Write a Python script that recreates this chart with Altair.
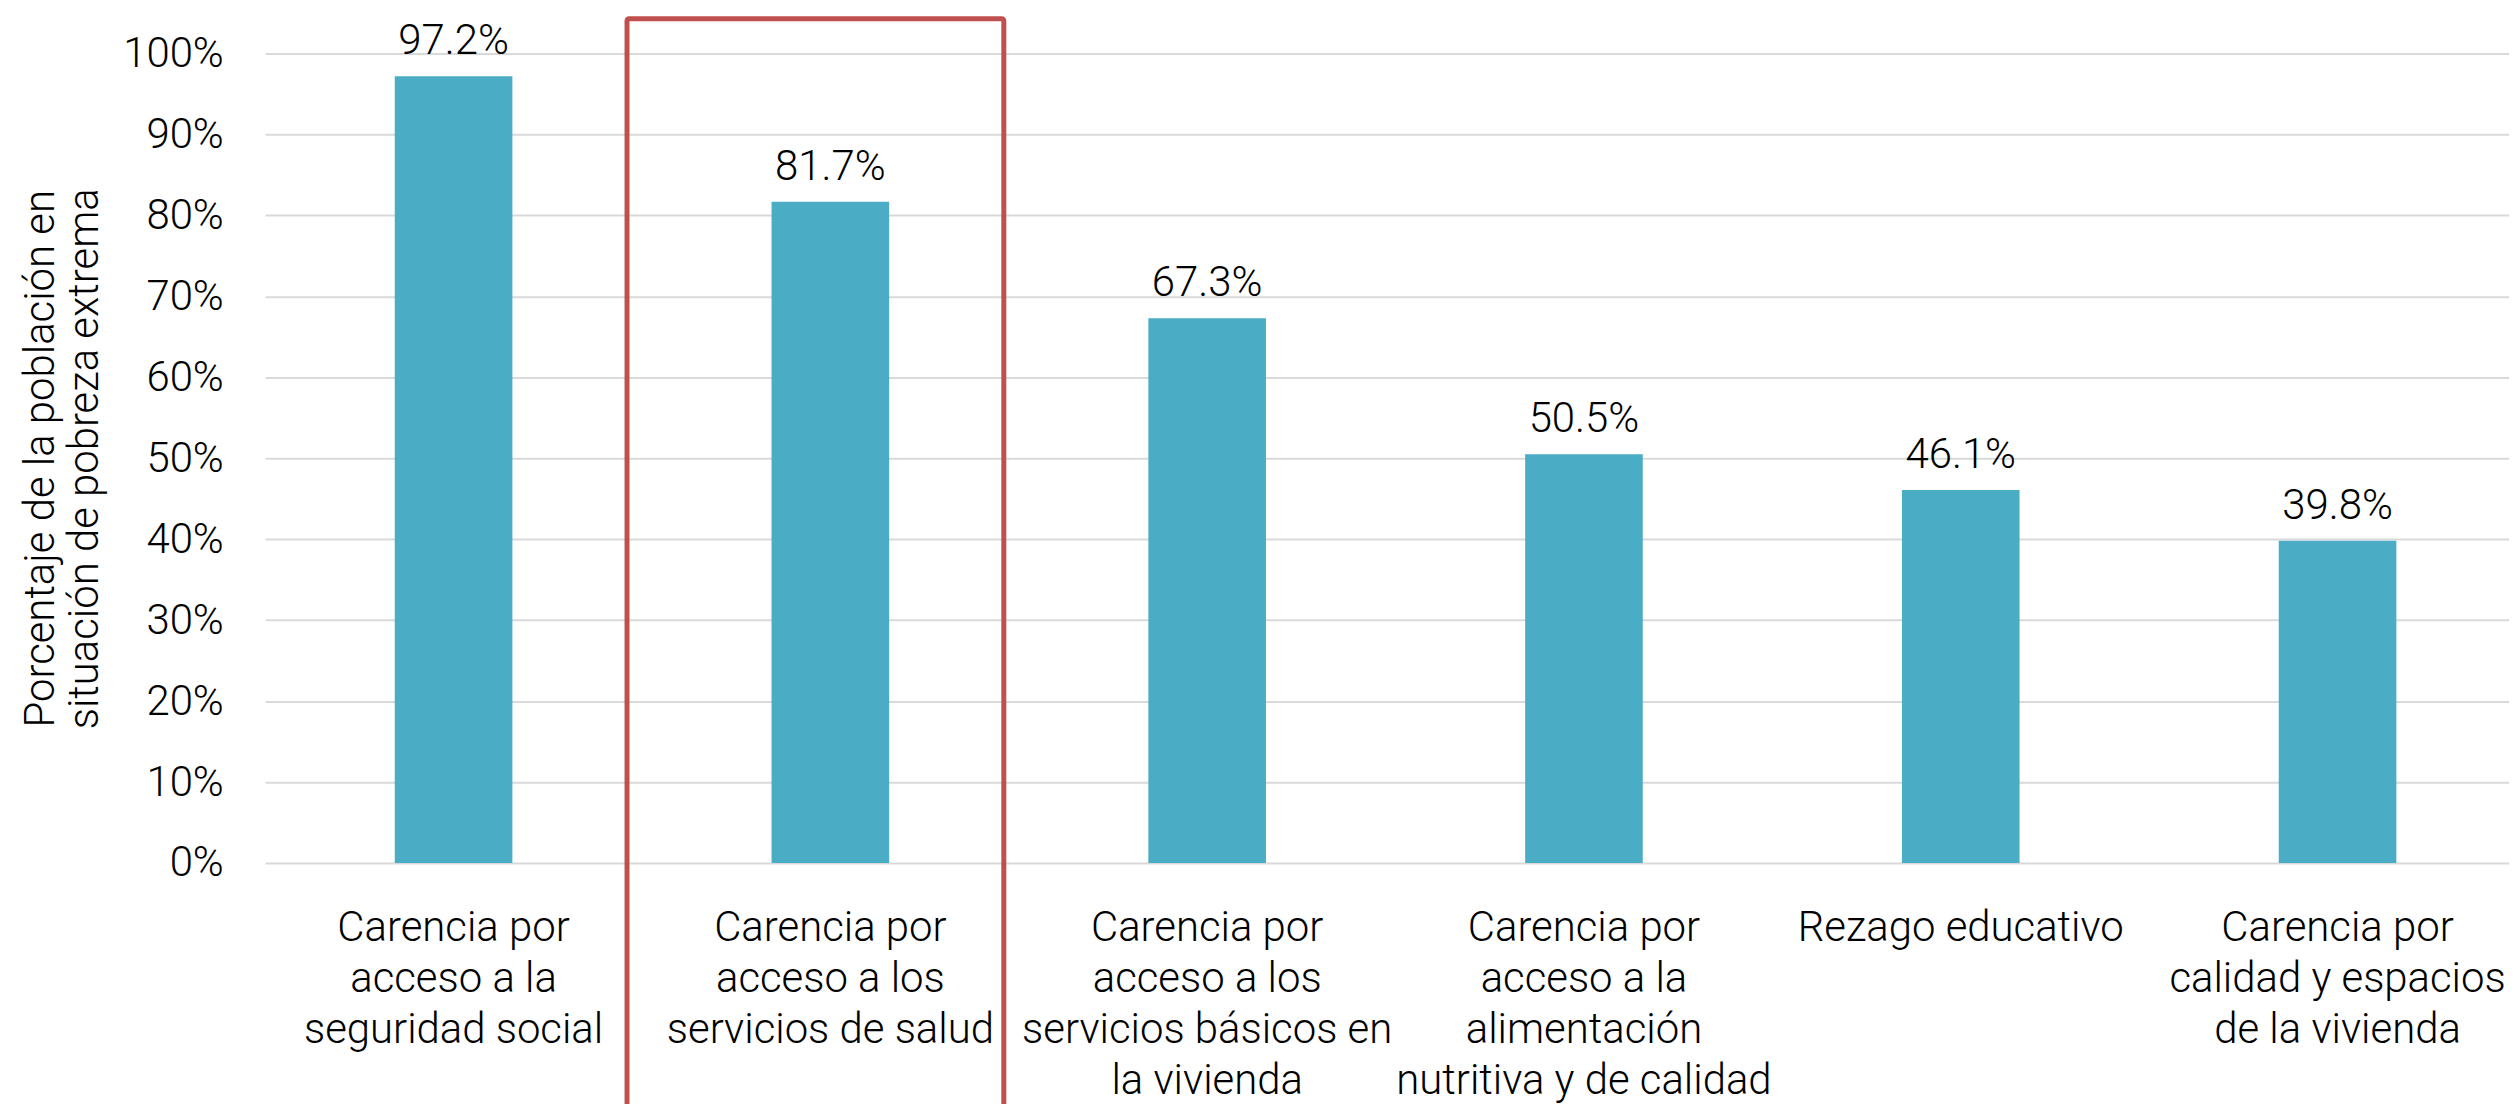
import altair as alt
import pandas as pd

# ---- data ----
category_lines = [
    "Carencia por|acceso a la|seguridad social",
    "Carencia por|acceso a los|servicios de salud",
    "Carencia por|acceso a los|servicios básicos en|la vivienda",
    "Carencia por|acceso a la|alimentación|nutritiva y de calidad",
    "Rezago educativo",
    "Carencia por|calidad y espacios|de la vivienda",
]
values = [97.2, 81.7, 67.3, 50.5, 46.1, 39.8]
y_ticks = [0, 10, 20, 30, 40, 50, 60, 70, 80, 90, 100]
y_title = ["Porcentaje de la población en", "situación de pobreza extrema"]

highlight_category = category_lines[1]
highlight_top = 104.3
highlight_bottom = -40

FONT = "Roboto"
WEIGHT = 300
FS = 42
TEXT_COLOR = "#000000"
BAR_COLOR = "#4BACC6"
BOX_COLOR = "#C0504D"

df = pd.DataFrame({"cat": category_lines, "value": values})
df["label"] = df["value"].map(lambda v: f"{v:.1f}%")

box_df = pd.DataFrame({"cat": [highlight_category], "top": [highlight_top], "bottom": [highlight_bottom]})

x_scale = alt.Scale(domain=category_lines, range=[0, 2268], paddingInner=0, paddingOuter=0)
y_scale = alt.Scale(domain=[0, 100], nice=False, clamp=False)

x_enc = alt.X(
    "cat:N",
    sort=category_lines,
    scale=x_scale,
    axis=alt.Axis(
        title=None,
        labelExpr="split(datum.label, '|')",
        labelAngle=0,
        labelAlign="center",
        labelBaseline="top",
        labelFontSize=FS,
        labelFontWeight=WEIGHT,
        labelLineHeight=51,
        labelPadding=45,
        labelLimit=2000,
        labelOverlap=False,
        labelBound=False,
        labelColor=TEXT_COLOR,
        labelFont=FONT,
        ticks=False,
        domain=False,
        grid=False,
    ),
)

y_enc = alt.Y(
    "value:Q",
    scale=y_scale,
    axis=alt.Axis(
        title=y_title,
        values=y_ticks,
        labelExpr="datum.value + '%'",
        labelFontSize=FS,
        labelFontWeight=WEIGHT,
        labelFont=FONT,
        labelColor=TEXT_COLOR,
        labelPadding=42,
        ticks=False,
        domain=False,
        grid=True,
        gridColor="#D9D9D9",
        gridWidth=2,
        titleFontSize=FS,
        titleFont=FONT,
        titleFontWeight=WEIGHT,
        titleColor=TEXT_COLOR,
        titleLineHeight=44,
        titlePadding=16,
    ),
)

bars = alt.Chart(df).mark_bar(size=118, color=BAR_COLOR).encode(x=x_enc, y=y_enc)

texts = alt.Chart(df).mark_text(
    dy=-22, baseline="alphabetic", fontSize=FS, font=FONT, fontWeight=WEIGHT, color=TEXT_COLOR
).encode(
    x=alt.X("cat:N", sort=category_lines, scale=x_scale),
    y=alt.Y("value:Q", scale=y_scale),
    text="label:N",
)

box = alt.Chart(box_df).mark_rect(
    filled=False, stroke=BOX_COLOR, strokeWidth=5, xOffset=-15, cornerRadius=2
).encode(
    x=alt.X("cat:N", sort=category_lines, scale=x_scale),
    y=alt.Y("top:Q", scale=y_scale),
    y2="bottom:Q",
)

chart = (
    alt.layer(bars, texts, box)
    .properties(
        width=2251,
        height=812,
        autosize=alt.AutoSizeParams(type="none"),
        padding={"left": 258, "top": 44, "right": 0, "bottom": 240},
        background="white",
    )
    .configure_view(stroke=None)
)

chart.save("out.html", embed_options={"renderer": "svg", "actions": False})
